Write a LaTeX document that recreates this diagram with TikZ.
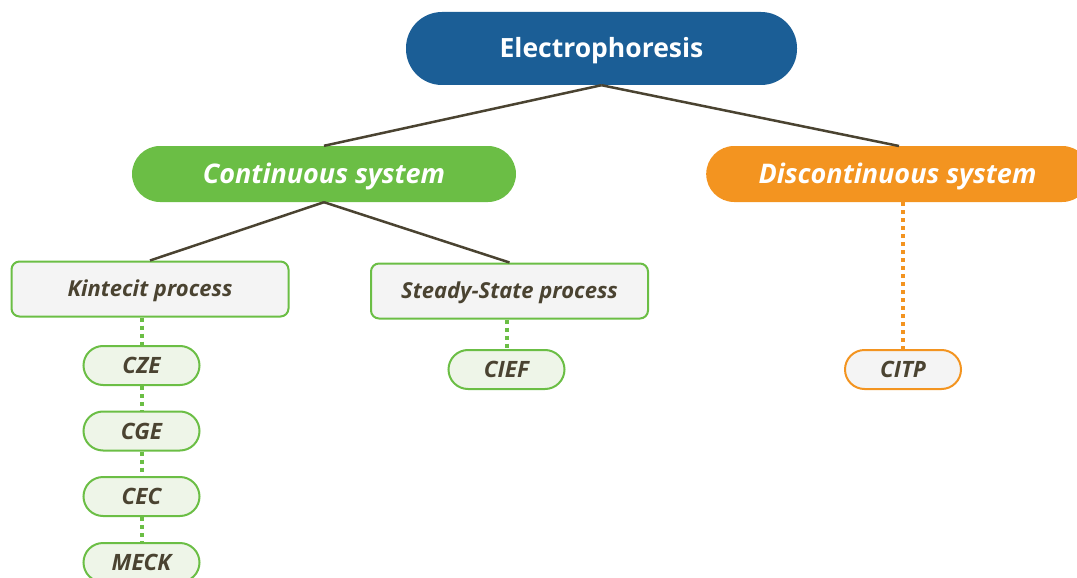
\documentclass[tikz,border=0pt]{standalone}
\usepackage{fontspec}
\setmainfont{Open Sans}
\definecolor{topblue}{HTML}{1B5E96}
\definecolor{contgreen}{HTML}{6BBE45}
\definecolor{discorange}{HTML}{F39420}
\definecolor{darktext}{HTML}{4A4331}
\definecolor{lightgray}{HTML}{F4F4F4}
\definecolor{lightgreen}{HTML}{EEF5E8}
\tikzset{
  topbox/.style={text height=18.9pt, text depth=0pt, fill=topblue, text=white, rounded corners=36pt, minimum width=391pt, minimum height=73pt, font=\fontsize{26.5}{30}\selectfont\bfseries},
  sysbox/.style={text height=19.3pt, text depth=0pt, rounded corners=28pt, minimum height=56pt, text=white, font=\fontsize{27}{31}\selectfont\bfseries\itshape},
  procbox/.style={text height=15.7pt, text depth=0pt, draw=contgreen, line width=2pt, fill=lightgray, rounded corners=8pt, minimum width=277pt, minimum height=55pt, text=darktext, font=\fontsize{22}{26}\selectfont\bfseries\itshape},
  leafbox/.style={text height=16pt, text depth=0pt, draw=contgreen, line width=2pt, fill=lightgreen, rounded corners=19.5pt, minimum width=116pt, minimum height=39pt, text=darktext, font=\fontsize{22.5}{26}\selectfont\bfseries\itshape},
  solid link/.style={draw=darktext, line width=2.5pt},
  dot link/.style={line width=4pt, dash pattern=on 4pt off 4pt},
}
\begin{document}
\begin{tikzpicture}[x=1pt,y=-1pt]
\useasboundingbox (0,0) rectangle (1077,578);
\node[topbox] (e) at (601.5,48.5) {Electrophoresis};
\node[sysbox, fill=contgreen, minimum width=384pt] (c) at (324,174) {Continuous system};
\node[sysbox, fill=discorange, minimum width=384pt, anchor=west] (d) at (706,174) {};
\node[sysbox] (dt) at (897.5,174) {Discontinuous system};
\node[procbox] (k) at (150,289) {Kintecit process};
\node[procbox] (s) at (509.5,291) {Steady-State process};
\node[leafbox] (cze) at (141.5,365.5) {CZE};
\node[leafbox] (cge) at (141.5,431) {CGE};
\node[leafbox] (cec) at (141.5,496.5) {CEC};
\node[leafbox] (meck) at (141.5,562.5) {MECK};
\node[leafbox] (cief) at (506.5,369.5) {CIEF};
\node[leafbox, draw=discorange, fill=lightgray] (citp) at (903,369.5) {CITP};
\coordinate (dtop) at (899,146);
\coordinate (dbot) at (903,202);
\draw[solid link] (e.south) -- (c.north);
\draw[solid link] (e.south) -- (dtop);
\draw[solid link] (c.south) -- (k.north);
\draw[solid link] (c.south) -- (s.north);
\draw[dot link, contgreen] (k.south -| cze.north) -- (cze.north);
\draw[dot link, contgreen] (cze.south) -- (cge.north);
\draw[dot link, contgreen] (cge.south) -- (cec.north);
\draw[dot link, contgreen] (cec.south) -- (meck.north);
\draw[dot link, contgreen] (s.south -| cief.north) -- (cief.north);
\draw[dot link, discorange] (dbot) -- (citp.north);
\end{tikzpicture}
\end{document}
